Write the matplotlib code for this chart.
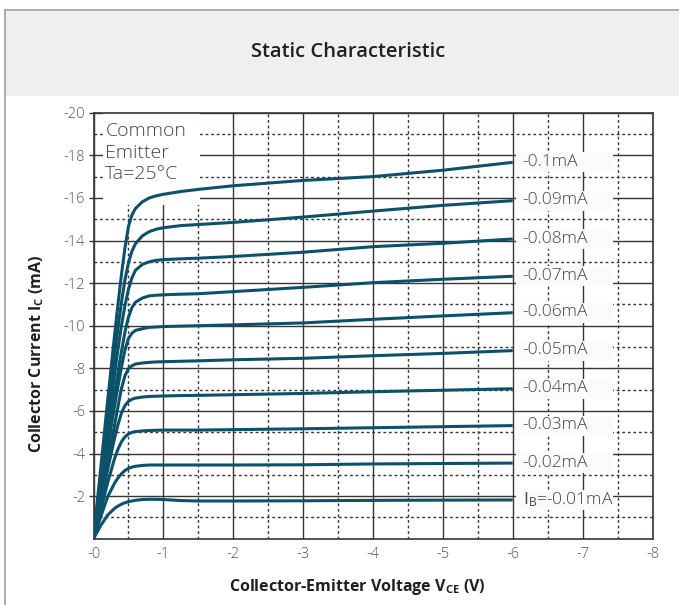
import numpy as np
import matplotlib
matplotlib.use("Agg")
import matplotlib.pyplot as plt
from matplotlib.patches import Rectangle

plt.rcParams['font.family'] = ['Open Sans', 'DejaVu Sans']
plt.rcParams['mathtext.fontset'] = 'custom'
plt.rcParams['mathtext.rm'] = 'Open Sans'
plt.rcParams['mathtext.bf'] = 'Open Sans:bold'

# --- DONNEES (valeurs absolues, tracées en négatif) ---
vce = [0, 0.1, 0.2, 0.3, 0.35, 0.4, 0.45, 0.5, 0.55, 0.6, 0.7, 0.8, 0.9, 1.0,
       1.25, 1.5, 2, 3, 4, 5, 6]   # V

ib_labels = ["$\\mathrm{I_B}$=-0.01mA", "-0.02mA", "-0.03mA", "-0.04mA", "-0.05mA",
             "-0.06mA", "-0.07mA", "-0.08mA", "-0.09mA", "-0.1mA"]

ic_001 = [0, 0.6, 1.1, 1.42, 1.53, 1.62, 1.69, 1.74, 1.77, 1.8, 1.84, 1.85, 1.85, 1.84,
          1.79, 1.77, 1.77, 1.78, 1.8, 1.81, 1.82]
ic_002 = [0, 1.0, 1.95, 2.6, 2.85, 3.05, 3.2, 3.3, 3.36, 3.4, 3.44, 3.46, 3.46, 3.46,
          3.46, 3.46, 3.46, 3.47, 3.51, 3.53, 3.55]
ic_003 = [0, 1.3, 2.6, 3.75, 4.2, 4.55, 4.78, 4.92, 4.99, 5.03, 5.06, 5.08, 5.09, 5.1,
          5.1, 5.1, 5.12, 5.16, 5.21, 5.26, 5.31]
ic_004 = [0, 1.6, 3.2, 4.7, 5.35, 5.9, 6.25, 6.45, 6.55, 6.6, 6.65, 6.68, 6.69, 6.7,
          6.72, 6.73, 6.76, 6.82, 6.9, 6.97, 7.04]
ic_005 = [0, 1.8, 3.6, 5.3, 6.2, 7.05, 7.65, 7.98, 8.12, 8.2, 8.25, 8.28, 8.3, 8.31,
          8.33, 8.35, 8.4, 8.47, 8.59, 8.7, 8.83]
ic_006 = [0, 2.1, 4.2, 6.2, 7.15, 8.05, 8.85, 9.4, 9.65, 9.78, 9.86, 9.92, 9.94, 9.96,
          9.98, 10.0, 10.04, 10.13, 10.3, 10.46, 10.61]
ic_007 = [0, 2.3, 4.6, 6.8, 7.8, 8.8, 9.7, 10.4, 10.85, 11.1, 11.3, 11.4, 11.43, 11.45,
          11.48, 11.5, 11.6, 11.8, 12.02, 12.18, 12.32]
ic_008 = [0, 2.6, 5.2, 7.7, 8.9, 10.0, 10.95, 11.7, 12.25, 12.6, 12.88, 13.0, 13.07, 13.1,
          13.14, 13.17, 13.25, 13.45, 13.71, 13.87, 14.07]
ic_009 = [0, 2.9, 5.8, 8.6, 9.9, 11.1, 12.15, 12.95, 13.5, 13.85, 14.22, 14.42, 14.53, 14.6,
          14.7, 14.75, 14.85, 15.1, 15.38, 15.65, 15.87]
ic_010 = [0, 3.2, 6.4, 9.5, 11.0, 12.4, 13.65, 14.65, 15.2, 15.5, 15.82, 16.0, 16.1, 16.17,
          16.3, 16.4, 16.57, 16.82, 17.0, 17.3, 17.67]

curves = [ic_001, ic_002, ic_003, ic_004, ic_005, ic_006, ic_007, ic_008, ic_009, ic_010]

x_ticks = [0, 1, 2, 3, 4, 5, 6, 7, 8]
y_ticks = [2, 4, 6, 8, 10, 12, 14, 16, 18, 20]

line_col = '#0b5169'
grid_col = '#3a3434'
text_col = '#4a4444'

fig = plt.figure(figsize=(6.79, 6.05), dpi=100)

# --- BANDEAU DU TITRE ---
fig.add_artist(Rectangle((5 / 679, 1 - 96 / 605), 1, 86 / 605, transform=fig.transFigure,
                         facecolor='#efefef', edgecolor='none', zorder=0))
fig.add_artist(plt.Line2D([5 / 679, 5 / 679], [0, 1 - 10 / 605], transform=fig.transFigure,
                          color='#a0a0a0', lw=1.2))
fig.add_artist(plt.Line2D([5 / 679, 1], [1 - 10 / 605, 1 - 10 / 605], transform=fig.transFigure,
                          color='#a0a0a0', lw=1.2))
fig.text(0.5125, 0.914, "Static Characteristic", ha='center', va='center',
         fontsize=14.5, fontweight='semibold', color='#231f20')

ax = fig.add_axes([93.5 / 679, 66.3 / 605, 559 / 679, 426 / 605])
ax.set_axisbelow(True)

for ic, lab in zip(curves, ib_labels):
    x = -np.array(vce)
    y = -np.array(ic)
    ax.plot(x, y, color=line_col, lw=2.2, zorder=3, solid_capstyle='butt',
            solid_joinstyle='round')
    # étiquette du courant de base avec fond clair qui masque la grille
    ax.add_patch(Rectangle((-6.05, y[-1] - 0.47), -1.38, 0.94, facecolor='#fbfbfb',
                           edgecolor='none', zorder=2))
    ax.text(-6.14, y[-1] - 0.02, lab, ha='left', va='center', fontsize=12.5,
            fontweight='light', color=text_col, zorder=4)

# encadré "Common Emitter"
ax.add_patch(Rectangle((-0.13, -20), -1.39, 4.35, facecolor='white', edgecolor='none', zorder=2))
ax.text(-0.17, -19.55, "Common\nEmitter\nTa=25°C", ha='left', va='top', fontsize=14,
        fontweight='light', color=text_col, linespacing=1.25, zorder=4)

# --- AXES ET GRILLE ---
ax.set_xlim(0, -8)
ax.set_ylim(0, -20)
ax.set_xticks([-v for v in x_ticks])
ax.set_xticklabels([f"-{v}" for v in x_ticks])
ax.set_yticks([-v for v in y_ticks])
ax.set_yticklabels([f"-{v}" for v in y_ticks])
ax.set_xticks(np.arange(-0.5, -8, -1), minor=True)
ax.set_yticks(np.arange(-1, -20, -2), minor=True)

ax.grid(True, which='major', color=grid_col, lw=1.0)
ax.grid(True, which='minor', color=grid_col, lw=1.0, linestyle=(0, (2, 2)))

ax.tick_params(axis='x', which='both', length=0, pad=6, labelsize=10.5, labelcolor='#555555')
ax.tick_params(axis='y', which='major', length=3.6, width=1, color=grid_col, pad=2.4,
               labelsize=10.5, labelcolor='#555555')
ax.tick_params(axis='y', which='minor', length=0)
for lbl in ax.get_xticklabels() + ax.get_yticklabels():
    lbl.set_fontweight('light')
for sp in ax.spines.values():
    sp.set_color(grid_col)
    sp.set_linewidth(1.2)

fig.text(0.527, 0.030, "Collector-Emitter Voltage V$_\\mathbf{CE}$ (V)", ha='center', va='center',
         fontsize=11.5, fontweight='bold', color='#231f20')
fig.text(0.0545, 0.415, "Collector Current I$_\\mathbf{C}$ (mA)", ha='center', va='center',
         rotation=90, fontsize=11.5, fontweight='bold', color='#231f20')

fig.savefig("out.png", dpi=100)
